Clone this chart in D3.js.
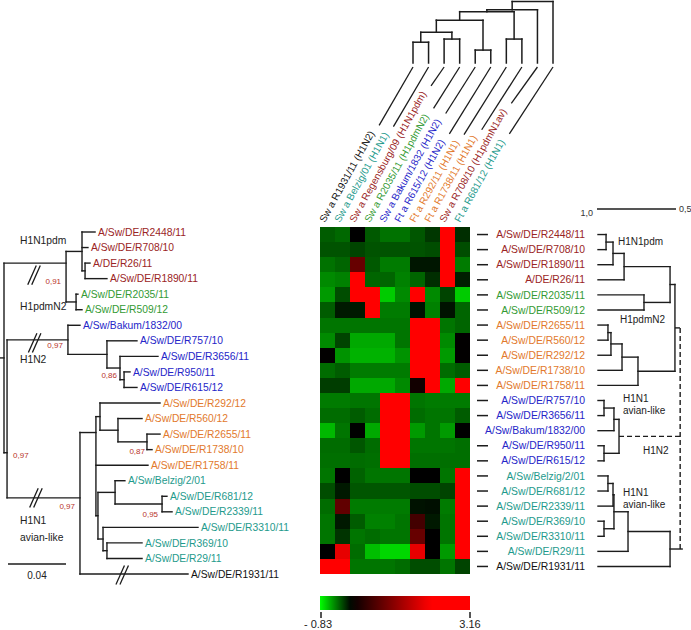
<!DOCTYPE html>
<html><head><meta charset="utf-8">
<script src="https://cdn.jsdelivr.net/npm/d3@7"></script>
<style>
body{margin:0;background:#fff}
text{font-family:"Liberation Sans",Arial,Helvetica,sans-serif}
</style>
</head><body>
<svg id="c" width="691" height="630"></svg>
<script>
// ---------------- DATA ----------------
const rowLabels = ["A/Sw/DE/R2448/11","A/Sw/DE/R708/10","A/Sw/DE/R1890/11","A/DE/R26/11","A/Sw/DE/R2035/11","A/Sw/DE/R509/12","A/Sw/DE/R2655/11","A/Sw/DE/R560/12","A/Sw/DE/R292/12","A/Sw/DE/R1738/10","A/Sw/DE/R1758/11","A/Sw/DE/R757/10","A/Sw/DE/R3656/11","A/Sw/Bakum/1832/00","A/Sw/DE/R950/11","A/Sw/DE/R615/12","A/Sw/Belzig/2/01","A/Sw/DE/R681/12","A/Sw/DE/R2339/11","A/Sw/DE/R369/10","A/Sw/DE/R3310/11","A/Sw/DE/R29/11","A/Sw/DE/R1931/11"];
const colLabels = ["Sw a R1931/11 (H1N2)","Sw a Belzig/01 (H1N1)","Sw a Regensburg/09 (H1N1pdm)","Sw a R2035/11 (H1pdmN2)","Sw a Bakum/1832 (H1N2)","Ft a R615/12 (H1N2)","Ft a R292/11 (H1N1)","Ft a R1738/11 (H1N1)","Sw a R708/10 (H1pdmN1av)","Ft a R681/12 (H1N1)"];
const colGroups = ["other","av","pdm","pdmN2","h1n2","h1n2","eur","eur","pdm","av"];
const leftLeaves = ["A/Sw/DE/R2448/11","A/Sw/DE/R708/10","A/DE/R26/11","A/Sw/DE/R1890/11","A/Sw/DE/R2035/11","A/Sw/DE/R509/12","A/Sw/Bakum/1832/00","A/Sw/DE/R757/10","A/Sw/DE/R3656/11","A/Sw/DE/R950/11","A/Sw/DE/R615/12","A/Sw/DE/R292/12","A/Sw/DE/R560/12","A/Sw/DE/R2655/11","A/Sw/DE/R1738/10","A/Sw/DE/R1758/11","A/Sw/Belzig/2/01","A/Sw/DE/R681/12","A/Sw/DE/R2339/11","A/Sw/DE/R3310/11","A/Sw/DE/R369/10","A/Sw/DE/R29/11","A/Sw/DE/R1931/11"];
const strainGroup = {
 "A/Sw/DE/R2448/11":"pdm","A/Sw/DE/R708/10":"pdm","A/DE/R26/11":"pdm","A/Sw/DE/R1890/11":"pdm",
 "A/Sw/DE/R2035/11":"pdmN2","A/Sw/DE/R509/12":"pdmN2",
 "A/Sw/Bakum/1832/00":"h1n2","A/Sw/DE/R757/10":"h1n2","A/Sw/DE/R3656/11":"h1n2","A/Sw/DE/R950/11":"h1n2","A/Sw/DE/R615/12":"h1n2",
 "A/Sw/DE/R292/12":"eur","A/Sw/DE/R560/12":"eur","A/Sw/DE/R2655/11":"eur","A/Sw/DE/R1738/10":"eur","A/Sw/DE/R1758/11":"eur",
 "A/Sw/Belzig/2/01":"av","A/Sw/DE/R681/12":"av","A/Sw/DE/R2339/11":"av","A/Sw/DE/R3310/11":"av","A/Sw/DE/R369/10":"av","A/Sw/DE/R29/11":"av",
 "A/Sw/DE/R1931/11":"other"};
// heatmap values, rows = rowLabels, columns = colLabels
const values = [
 [-0.30,-0.34, 0.00,-0.29,-0.37,-0.37,-0.28,-0.18, 3.16,-0.15],
 [-0.27,-0.27,-0.22,-0.27,-0.27,-0.27,-0.27,-0.25, 2.90,-0.25],
 [-0.37,-0.33, 0.85,-0.29,-0.40,-0.40,-0.07,-0.07, 2.80,-0.40],
 [-0.45,-0.42, 2.60,-0.33,-0.33,-0.42,-0.33,-0.15, 2.70,-0.10],
 [-0.50,-0.25, 2.50, 2.40,-0.66,-0.45, 2.30,-0.45,-0.22,-0.66],
 [-0.30,-0.08,-0.08, 2.60,-0.40,-0.40,-0.06,-0.42,-0.06,-0.33],
 [-0.38,-0.38,-0.38,-0.38,-0.38,-0.38, 2.80, 2.70,-0.38,-0.33],
 [-0.45,-0.22,-0.55,-0.55,-0.55,-0.38, 2.90, 2.80,-0.45, 0.02],
 [ 0.02,-0.48,-0.58,-0.58,-0.58,-0.48, 3.00, 2.90,-0.50, 0.02],
 [-0.35,-0.30,-0.40,-0.40,-0.40,-0.40, 2.80, 2.90,-0.35,-0.30],
 [-0.20,-0.20,-0.55,-0.55,-0.55,-0.45, 0.15, 2.70,-0.55, 2.40],
 [-0.40,-0.40,-0.38,-0.38, 2.90, 2.80,-0.38,-0.40,-0.40,-0.40],
 [-0.35,-0.35,-0.30,-0.35, 2.80, 2.90,-0.35,-0.38,-0.38,-0.30],
 [-0.60,-0.38, 0.00,-0.55, 3.00, 2.90,-0.50,-0.38,-0.50, 0.00],
 [-0.35,-0.35,-0.28,-0.35, 2.80, 2.80,-0.38,-0.38,-0.38,-0.36],
 [-0.36,-0.36,-0.35,-0.36, 2.90, 3.00,-0.36,-0.36,-0.36,-0.36],
 [-0.38, 0.00,-0.32,-0.38,-0.38,-0.38, 0.00, 0.00,-0.38, 2.80],
 [-0.25,-0.08,-0.28,-0.28,-0.28,-0.28,-0.25,-0.25,-0.22, 2.90],
 [-0.35, 0.80,-0.40,-0.40,-0.40,-0.40,-0.06,-0.05,-0.40, 2.80],
 [-0.38,-0.08,-0.30,-0.42,-0.42,-0.38, 0.55,-0.08,-0.38, 2.70],
 [-0.38,-0.17,-0.38,-0.35,-0.38,-0.38, 0.85, 0.00,-0.38, 2.90],
 [ 0.00, 1.90,-0.35,-0.62,-0.70,-0.70, 1.90, 0.00,-0.50, 3.00],
 [ 2.80, 2.70,-0.38,-0.38,-0.38,-0.35,-0.25,-0.25,-0.38,-0.22]
];
const legendDomain = [-0.83, 3.16];
const legendTickLabels = ["- 0.83", "3.16"];
// phylogenetic tree (left): d = distance from root (substitutions/site)
const leftTree = {d:0, children:[
  {id:"A", d:0.0428, sup:"0,91", brk:true, row:2.0, children:[
    {d:0.0538, children:[{leaf:"A/Sw/DE/R2448/11", d:0.0628},{leaf:"A/Sw/DE/R708/10", d:0.0579},
      {d:0.0559, children:[{leaf:"A/DE/R26/11", d:0.0593},{leaf:"A/Sw/DE/R1890/11", d:0.0710}]}]},
    {d:0.0497, children:[{leaf:"A/Sw/DE/R2035/11", d:0.0510},{leaf:"A/Sw/DE/R509/12", d:0.0538}]}]},
  {id:"N", d:0.0021, sup:"0,97", row:14.2, children:[
    {id:"H", d:0.0441, sup:"0,97", brk:true, children:[
      {leaf:"A/Sw/Bakum/1832/00", d:0.0524},
      {d:0.0710, children:[{leaf:"A/Sw/DE/R757/10", d:0.0917},
        {id:"H3", d:0.0800, sup:"0,86", children:[{leaf:"A/Sw/DE/R3656/11", d:0.1062},
          {d:0.0828, children:[{leaf:"A/Sw/DE/R950/11", d:0.0869},{leaf:"A/Sw/DE/R615/12", d:0.0917}]}]}]}]},
    {id:"V", d:0.0524, sup:"0,97", brk:true, row:17.1, children:[
      {d:0.0634, row:12.9, children:[
        {d:0.0662, children:[{leaf:"A/Sw/DE/R292/12", d:0.1076},
          {d:0.0786, children:[{leaf:"A/Sw/DE/R560/12", d:0.0952},
            {id:"OR2", d:0.0986, sup:"0,87", children:[{leaf:"A/Sw/DE/R2655/11", d:0.1076},{leaf:"A/Sw/DE/R1738/10", d:0.1021}]}]}]},
        {leaf:"A/Sw/DE/R1758/11", d:0.0993},
        {d:0.0648, children:[
          {d:0.0766, children:[{leaf:"A/Sw/Belzig/2/01", d:0.0834},
            {id:"TB2", d:0.1090, sup:"0,95", children:[{leaf:"A/Sw/DE/R681/12", d:0.1124},{leaf:"A/Sw/DE/R2339/11", d:0.1159}]}]},
          {d:0.0683, children:[{leaf:"A/Sw/DE/R3310/11", d:0.1338},
            {d:0.0710, children:[{leaf:"A/Sw/DE/R369/10", d:0.0952},{leaf:"A/Sw/DE/R29/11", d:0.0952}]}]}]}]},
      {id:"R1931", leaf:"A/Sw/DE/R1931/11", d:0.1269, brk:true}]}]}]};
// heatmap row dendrogram (right): h = similarity level of merge
const rightTree = {h:0.48, children:[
  {h:0.513, link:"dash", children:[
    {h:0.544, children:[
      {h:0.835, children:[{h:0.905, children:[{h:0.949, children:[{leaf:"A/Sw/DE/R2448/11"},{leaf:"A/Sw/DE/R708/10"}]},{leaf:"A/Sw/DE/R1890/11"}]},{leaf:"A/DE/R26/11"}]},
      {h:0.709, children:[{leaf:"A/Sw/DE/R2035/11"},{leaf:"A/Sw/DE/R509/12"}]}]},
    {h:0.747, children:[{h:0.848, children:[{h:0.918, children:[{h:0.937, children:[{leaf:"A/Sw/DE/R2655/11"},{leaf:"A/Sw/DE/R560/12"}]},{leaf:"A/Sw/DE/R292/12"}]},{leaf:"A/Sw/DE/R1738/10"}]},{leaf:"A/Sw/DE/R1758/11"}]}]},
  {h:0.867, link:"dash", children:[
    {h:0.899, children:[{h:0.962, children:[{leaf:"A/Sw/DE/R757/10"},{leaf:"A/Sw/DE/R3656/11"}]},{leaf:"A/Sw/Bakum/1832/00"}]},
    {h:0.962, children:[{leaf:"A/Sw/DE/R950/11"},{leaf:"A/Sw/DE/R615/12"}]}]},
  {h:0.544, children:[
    {h:0.810, children:[
      {h:0.899, children:[
        {h:0.905, children:[{h:0.937, children:[{leaf:"A/Sw/Belzig/2/01"},{leaf:"A/Sw/DE/R681/12"}]},{leaf:"A/Sw/DE/R2339/11"}]},
        {h:0.962, children:[{leaf:"A/Sw/DE/R369/10"},{leaf:"A/Sw/DE/R3310/11"}]}]},
      {leaf:"A/Sw/DE/R29/11"}]},
    {leaf:"A/Sw/DE/R1931/11"}]}]};
// column dendrogram (top)
const topTree = {h:0.805, children:[
  {h:0.831, children:[
    {h:0.837, children:[
      {h:0.864, children:[
        {h:0.902, children:[{h:0.934, children:[{col:0},{col:1}]},{h:0.924, children:[{col:2},{col:3}]}]},
        {h:0.959, children:[{col:4},{col:5}]}]},
      {h:0.924, children:[{col:6},{col:7}]}]},
    {col:8}]},
  {col:9}]};
const leftClades = [["H1N1pdm",20,244],["H1pdmN2",20,310],["H1N2",20,363],["H1N1",20,524],["avian-like",20,541]];
const rightClades = [["H1N1pdm",618,245],["H1pdmN2",620,323],["H1N1",623,402],["avian-like",623,414],["H1N2",643,454],["H1N1",623,496],["avian-like",623,508]];

// ---------------- STYLE / LAYOUT ----------------
const groupColor = {pdm:"#9a2424", pdmN2:"#339a33", h1n2:"#2525c8", eur:"#e2792c", av:"#1e9a8c", other:"#111111"};
const LINE = "#1c1c1c";
const svg = d3.select("#c");

const color = d3.scaleLinear().domain([-0.83, 0, 2.1, 3.16]).range(["#00ff00","#000000","#ff0000","#ff0000"]).interpolate(d3.interpolateRgb).clamp(true);

// ---------------- HEATMAP ----------------
const xH = d3.scaleBand().domain(d3.range(colLabels.length)).range([320, 470]);
const yH = d3.scaleBand().domain(rowLabels).range([227, 574]);
const cells = [];
values.forEach((r,i)=>r.forEach((v,j)=>cells.push({row:rowLabels[i], col:j, v})));
svg.append("g").selectAll("rect").data(cells).join("rect")
  .attr("x", d=>xH(d.col)).attr("y", d=>yH(d.row))
  .attr("width", xH.bandwidth()+0.3).attr("height", yH.bandwidth()+0.3)
  .attr("fill", d=>color(d.v)).attr("shape-rendering","crispEdges");

// right row labels + dashes
const gRL = svg.append("g");
rowLabels.forEach(r=>{
  const yc = yH(r)+yH.bandwidth()/2;
  const t = gRL.append("text").attr("x",585).attr("y",yc).attr("dy","0.35em").attr("text-anchor","end")
    .attr("font-size",10.4).attr("fill",groupColor[strainGroup[r]]).text(r);
  const w = t.node().getComputedTextLength();
  if (585 - w > 486) gRL.append("line").attr("x1",477).attr("x2",488).attr("y1",yc).attr("y2",yc).attr("stroke",LINE).attr("stroke-width",1.5);
});

// ---------------- LEGEND ----------------
const xLeg = d3.scaleLinear().domain(legendDomain).range([320, 470]);
const defs = svg.append("defs");
const grad = defs.append("linearGradient").attr("id","lg");
d3.range(0,1.0001,0.05).forEach(f=>{
  grad.append("stop").attr("offset",f).attr("stop-color", color(legendDomain[0]+f*(legendDomain[1]-legendDomain[0])));
});
svg.append("rect").attr("x",xLeg(legendDomain[0])).attr("y",596).attr("width",xLeg(legendDomain[1])-xLeg(legendDomain[0])).attr("height",14).attr("fill","url(#lg)");
legendDomain.forEach((v,i)=>{
  const x = xLeg(v) + (i===0?1:0);
  svg.append("line").attr("x1",x).attr("x2",x).attr("y1",612).attr("y2",618).attr("stroke",LINE).attr("stroke-width",1.5);
  svg.append("text").attr("x", i===0? x-3 : x).attr("y",628).attr("text-anchor","middle").attr("font-size",11).attr("fill","#222").text(legendTickLabels[i]);
});

// ---------------- LEFT TREE ----------------
const xL = d3.scaleLinear().domain([0, 0.04]).range([4, 62]);
const yL = d3.scaleLinear().domain([0, leftLeaves.length-1]).range([232, 574]);
const lroot = d3.hierarchy(leftTree);
lroot.eachAfter(n=>{
  if (!n.children) n.r = leftLeaves.indexOf(n.data.leaf);
  else n.r = n.data.row != null ? n.data.row : (n.children[0].r + n.children[n.children.length-1].r)/2;
});
lroot.each(n=>{ n.px = xL(n.data.d); n.py = yL(n.r); });
const gT = svg.append("g").attr("stroke",LINE).attr("stroke-width",1.4).attr("fill","none").attr("stroke-linecap","square");
lroot.descendants().forEach(n=>{
  if (n.parent) gT.append("line").attr("x1",n.parent.px).attr("x2",n.px).attr("y1",n.py).attr("y2",n.py);
  if (n.children) gT.append("line").attr("x1",n.px).attr("x2",n.px)
     .attr("y1",d3.min(n.children,c=>c.py)).attr("y2",d3.max(n.children,c=>c.py));
});
gT.append("line").attr("x1",0).attr("x2",lroot.px).attr("y1",lroot.py).attr("y2",lroot.py);
// break marks
const brkLayout = {A:{f:0.5,dy:12}, H:{f:0.47,dy:3}, V:{f:0.41,dy:0}, R1931:{f:0.4,dy:1}};
lroot.descendants().filter(n=>n.data.brk).forEach(n=>{
  const L = brkLayout[n.data.id];
  const bx = n.parent.px + L.f*(n.px - n.parent.px), by = n.py + L.dy;
  [0,1].forEach(k=>gT.append("line").attr("x1",bx-7+k*4).attr("y1",by+9).attr("x2",bx+1+k*4).attr("y2",by-9).attr("stroke-width",1.3));
});
// support values
const supLayout = {A:{dx:-5,dy:21,a:"end"}, H:{dx:-5,dy:8,a:"end"}, H3:{dx:-3,dy:10,a:"end"}, N:{dx:6,dy:5,a:"start"},
                   V:{dx:-5,dy:11,a:"end"}, OR2:{dx:-2,dy:12,a:"end"}, TB2:{dx:-4,dy:13,a:"end"}};
lroot.descendants().filter(n=>n.data.sup).forEach(n=>{
  const L = supLayout[n.data.id];
  svg.append("text").attr("x",n.px+L.dx).attr("y",n.py+L.dy).attr("text-anchor",L.a)
    .attr("font-size",8).attr("fill","#b8352b").text(n.data.sup);
});
// leaf labels
lroot.leaves().forEach(n=>{
  svg.append("text").attr("x",n.px+3).attr("y",n.py).attr("dy","0.35em").attr("font-size",10.3)
    .attr("fill",groupColor[strainGroup[n.data.leaf]]).text(n.data.leaf);
});
leftClades.forEach(([t,x,y])=>svg.append("text").attr("x",x).attr("y",y).attr("font-size",10.3).attr("fill","#222").text(t));
// scale bar
svg.append("line").attr("x1",xL(0)+4).attr("x2",xL(0.04)+4).attr("y1",564).attr("y2",564).attr("stroke",LINE).attr("stroke-width",1.4);
svg.append("text").attr("x",(xL(0)+xL(0.04))/2+4).attr("y",579).attr("text-anchor","middle").attr("font-size",10).attr("fill","#222").text("0.04");

// ---------------- RIGHT DENDROGRAM ----------------
const xR = d3.scaleLinear().domain([1, 0.5]).range([598, 677]);
const rroot = d3.hierarchy(rightTree);
rroot.eachAfter(n=>{
  n.py = n.children ? (n.children[0].py + n.children[n.children.length-1].py)/2 : yH(n.data.leaf)+yH.bandwidth()/2;
  n.px = xR(n.data.h != null ? n.data.h : 1);
});
const gR = svg.append("g").attr("stroke",LINE).attr("stroke-width",1.4).attr("fill","none").attr("stroke-linecap","square");
rroot.descendants().forEach(n=>{
  if (n.parent) {
    const l = gR.append("line").attr("x1",n.px).attr("x2",n.parent.px + (n.parent===rroot && !n.data.link ? 2 : 0)).attr("y1",n.py).attr("y2",n.py);
    if (n.data.link==="dash") l.attr("stroke-dasharray","5,3").attr("stroke-linecap","butt");
  }
  if (n.children) {
    const l = gR.append("line").attr("x1",n.px).attr("x2",n.px)
      .attr("y1",d3.min(n.children,c=>c.py)).attr("y2",d3.max(n.children,c=>c.py));
    if (n===rroot) l.attr("stroke-dasharray","5,3").attr("stroke-linecap","butt");
  }
});
rightClades.forEach(([t,x,y])=>svg.append("text").attr("x",x).attr("y",y).attr("font-size",10).attr("fill","#222").text(t));
svg.append("line").attr("x1",xR(1)-1).attr("x2",xR(0.5)-1).attr("y1",209).attr("y2",209).attr("stroke",LINE).attr("stroke-width",1.4);
svg.append("text").attr("x",xR(1)-5).attr("y",216).attr("text-anchor","end").attr("font-size",9).attr("fill","#333").text("1,0");
svg.append("text").attr("x",xR(0.5)+2).attr("y",212).attr("font-size",9).attr("fill","#333").text("0,5");

// ---------------- TOP DENDROGRAM + COLUMN LABELS ----------------
const xT = d3.scalePoint().domain(d3.range(colLabels.length)).range([413, 553]);
const yT = d3.scaleLinear().domain([1, 0.8]).range([63, 0]);
const troot = d3.hierarchy(topTree);
troot.eachAfter(n=>{
  n.px = n.children ? (n.children[0].px + n.children[n.children.length-1].px)/2 : xT(n.data.col);
  n.py = yT(n.data.h != null ? n.data.h : 1);
});
const gTop = svg.append("g").attr("stroke",LINE).attr("stroke-width",1.5).attr("fill","none").attr("stroke-linecap","square");
troot.descendants().forEach(n=>{
  if (n.parent) gTop.append("line").attr("x1",n.px).attr("x2",n.px).attr("y1",n.py).attr("y2",n.parent.py);
  if (n.children) gTop.append("line").attr("x1",n.children[0].px).attr("x2",n.children[n.children.length-1].px).attr("y1",n.py).attr("y2",n.py);
});
const ang = -61, rad = ang*Math.PI/180, dx = Math.cos(rad), dy = Math.sin(rad);
colLabels.forEach((t,i)=>{
  const ax = xH(i) + xH.bandwidth()/2 - 2.5, ay = 223;
  const txt = svg.append("text").attr("transform",`translate(${ax},${ay}) rotate(${ang})`)
    .attr("font-size",10).attr("fill",groupColor[colGroups[i]]).text(t);
  const L = txt.node().getComputedTextLength();
  const sx = ax + dx*(L+9), sy = ay + dy*(L+9);
  const ex = xT(i), ey = yT(1)+4;
  if (sy - ey > 4) svg.append("line").attr("x1",sx).attr("y1",sy).attr("x2",ex).attr("y2",ey)
      .attr("stroke",LINE).attr("stroke-width",1.3);
});
</script>
</body></html>
